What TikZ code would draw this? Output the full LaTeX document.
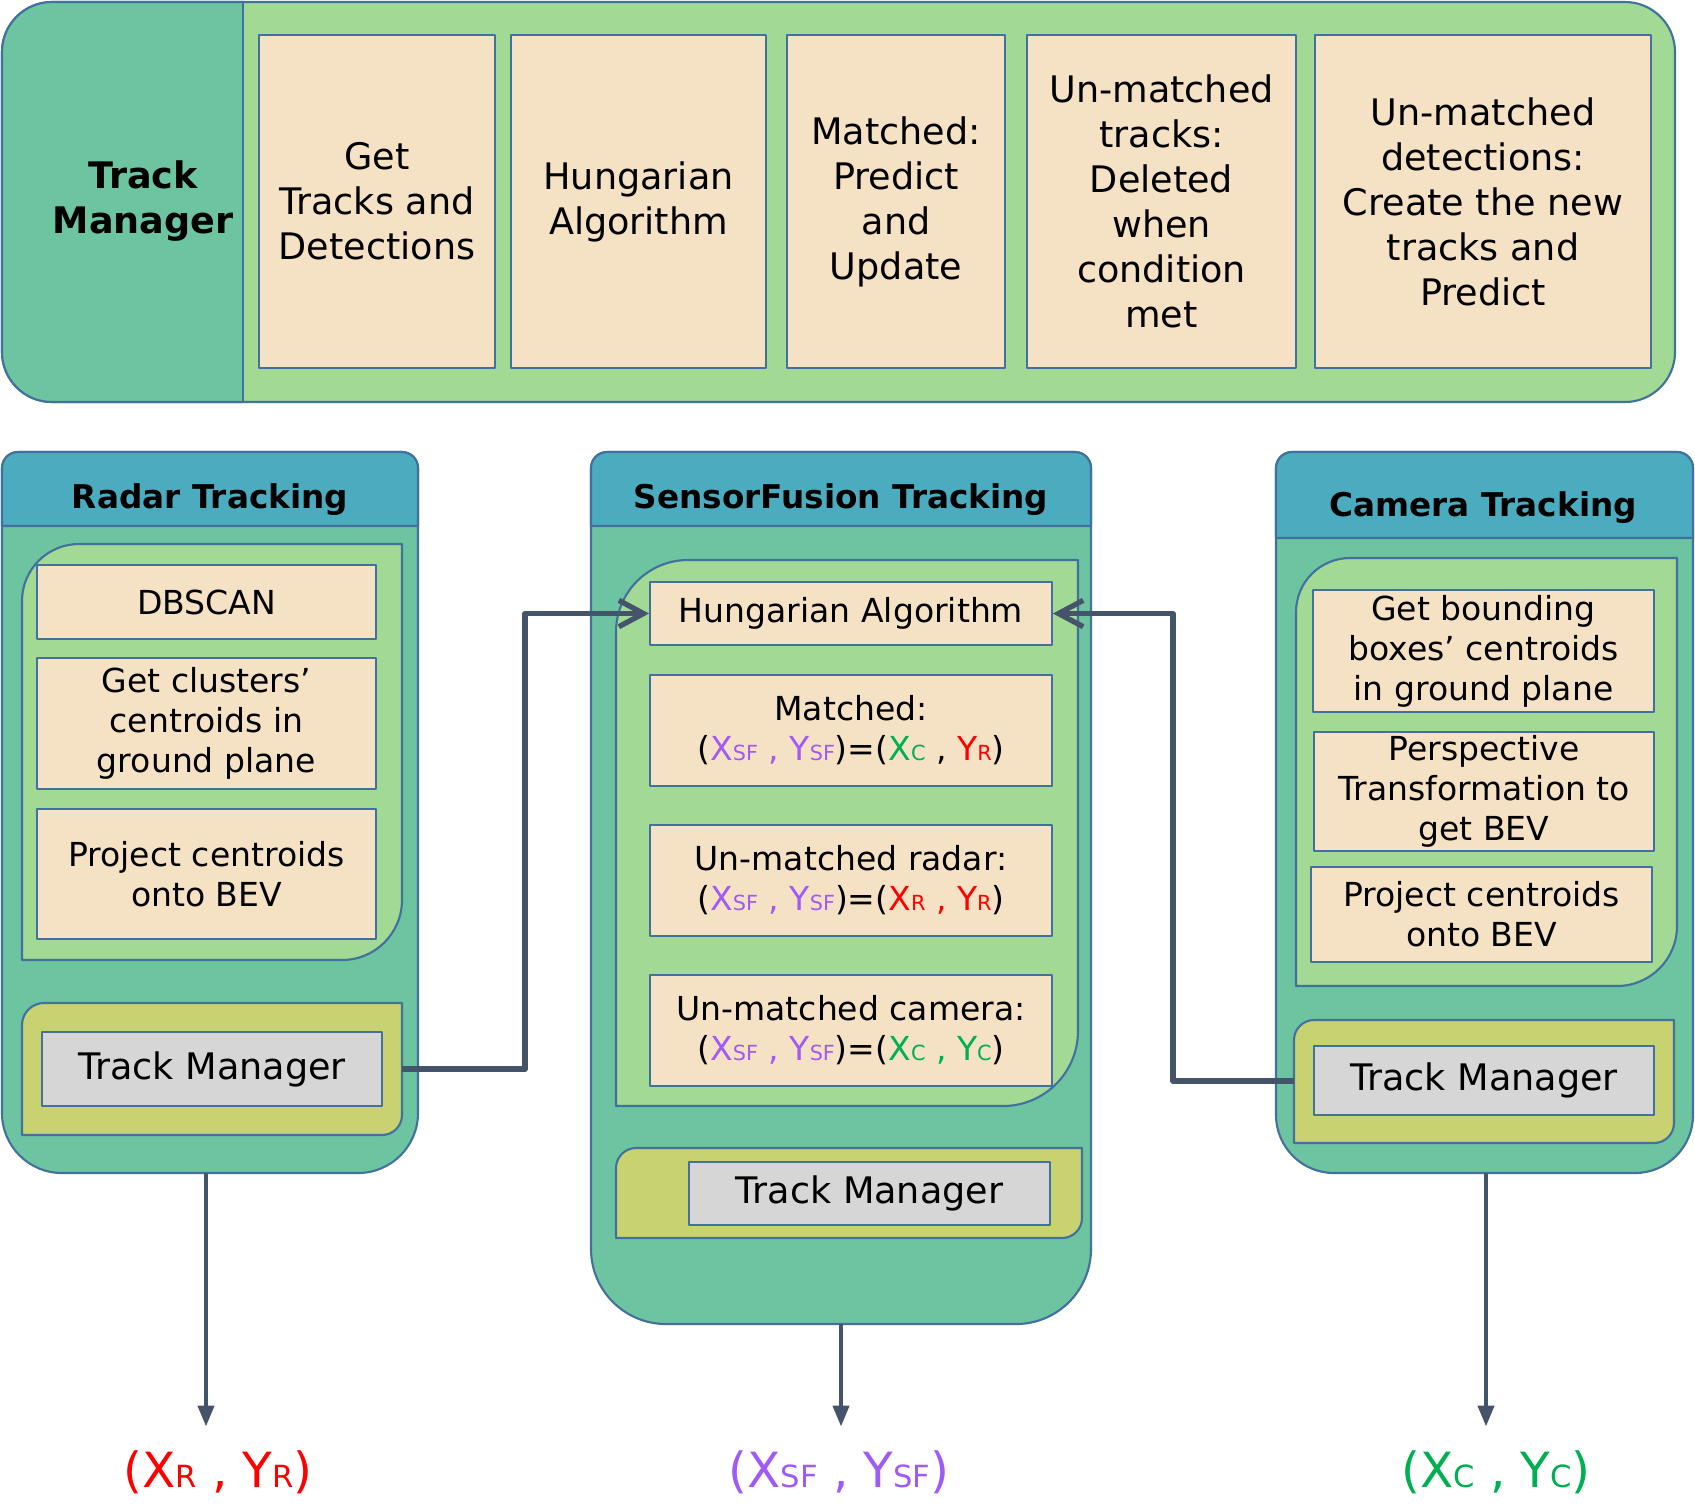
\documentclass[tikz,border=0pt]{standalone}
\usepackage{fontspec}
\setmainfont{DejaVu Sans}
\usepackage{graphicx}
\usepackage{xcolor}
\usetikzlibrary{arrows.meta}

\definecolor{panelteal}{RGB}{109,196,161}
\definecolor{headblue}{RGB}{75,172,192}
\definecolor{innergreen}{RGB}{161,217,149}
\definecolor{stepbeige}{RGB}{245,225,196}
\definecolor{tmolive}{RGB}{200,210,112}
\definecolor{tmgray}{RGB}{214,214,214}
\definecolor{edgeblue}{RGB}{65,113,156}
\definecolor{linkslate}{RGB}{68,84,106}
\definecolor{radarred}{RGB}{255,0,0}
\definecolor{camgreen}{RGB}{0,176,80}
\definecolor{fusionpurple}{RGB}{160,90,245}

\newcommand{\bannerfont}{\fontsize{10.4}{12.8}\selectfont}
\newcommand{\stepfont}{\fontsize{9.4}{11.4}\selectfont}
\newcommand{\headfont}{\fontsize{9.3}{11}\selectfont\bfseries}
\newcommand{\tmfont}{\fontsize{10.4}{12}\selectfont}
\newcommand{\outfont}{\fontsize{13.8}{16}\selectfont}

% small letters sitting on the baseline
\newcommand{\lowidx}[1]{\scalebox{0.63}{#1}}
\newcommand{\XYsf}{\textcolor{fusionpurple}{X\lowidx{SF} , Y\lowidx{SF}}}

% tracking column: x1 y1 x2 y2 (y down), header bottom, bottom radius
\newcommand{\trackpanel}[6]{%
  \filldraw[fill=panelteal, draw=edgeblue, line width=0.6pt]
    (#1,{(#2+#4)/2}) [rounded corners=0.16cm] -- (#1,#2) -- (#3,#2) -- (#3,{(#2+#4)/2})
    [rounded corners=#6cm] -- (#3,#4) -- (#1,#4) -- cycle;
  \filldraw[fill=headblue, draw=edgeblue, line width=0.6pt]
    ({(#1+#3)/2},#5) [sharp corners] -- (#3,#5) -- (#3,{(#2+#5)/2})
    [rounded corners=0.16cm] -- (#3,#2) -- (#1,#2) -- (#1,{(#2+#5)/2})
    [sharp corners] -- (#1,#5) -- cycle;}

% inner panel: fill, x1 y1 x2 y2, top-left radius, bottom-right radius
\newcommand{\innerpanel}[7]{%
  \filldraw[fill=#1, draw=edgeblue, line width=0.6pt]
    (#4,{(#3+#5)/2}) [rounded corners=#7cm] -- (#4,#5) -- ({(#2+#4)/2},#5)
    [sharp corners] -- (#2,#5) -- (#2,{(#3+#5)/2})
    [rounded corners=#6cm] -- (#2,#3) -- ({(#2+#4)/2},#3)
    [sharp corners] -- (#4,#3) -- cycle;}

\begin{document}
\begin{tikzpicture}[x=1cm, y=-1cm, line join=round,
    stepbox/.style={draw=edgeblue, fill=stepbeige, line width=0.55pt, inner sep=0pt, align=center, font=\stepfont},
    bigbox/.style={stepbox, font=\bannerfont},
    tmbox/.style={stepbox, fill=tmgray, font=\tmfont},
    headtext/.style={anchor=base, font=\headfont},
    outtext/.style={anchor=base, inner sep=6.5pt, font=\outfont},
    link/.style={draw=linkslate, line width=1.5pt},
    feed/.style={link, -{Straight Barb[length=7pt, width=7.5pt]}},
    result/.style={link, line width=1.3pt, -{Triangle[length=6pt, width=4.5pt]}}]
  \useasboundingbox (0,0) rectangle (16.95,15.06);

  % track manager banner
  \filldraw[fill=innergreen, draw=edgeblue, line width=0.6pt, rounded corners=0.5cm] (0.02,0.02) rectangle (16.75,4.02);
  \begin{scope}
    \clip (0,0) rectangle (2.43,4.1);
    \filldraw[fill=panelteal, draw=edgeblue, line width=0.6pt, rounded corners=0.5cm] (0.02,0.02) rectangle (16.75,4.02);
  \end{scope}
  \draw[edgeblue, line width=0.6pt] (2.43,0.02) -- (2.43,4.02);
  \node[font=\bannerfont\bfseries, align=center] (tmtitle) at (1.43,2.01) {Track\\Manager};
  \node[bigbox, minimum width=2.36cm, minimum height=3.33cm] (gettd) at (3.77,2.015) {Get\\Tracks and\\Detections};
  \node[bigbox, minimum width=2.55cm, minimum height=3.33cm] (hungtm) at (6.385,2.015) {Hungarian\\Algorithm};
  \node[bigbox, minimum width=2.18cm, minimum height=3.33cm] (matchtm) at (8.96,2.015) {Matched:\\Predict\\and\\Update};
  \node[bigbox, minimum width=2.69cm, minimum height=3.33cm] (umtracks) at (11.615,2.015) {Un-matched\\tracks:\\Deleted\\when\\condition\\met};
  \node[bigbox, minimum width=3.36cm, minimum height=3.33cm] (umdets) at (14.83,2.015) {Un-matched\\detections:\\Create the new\\tracks and\\Predict};

  % radar column
  \trackpanel{0.02}{4.52}{4.18}{11.73}{5.26}{0.6}
  \node[headtext] (radarhead) at (2.10,5.08) {Radar Tracking};
  \innerpanel{innergreen}{0.22}{5.44}{4.02}{9.60}{0.57}{0.6}
  \node[stepbox, minimum width=3.39cm, minimum height=0.74cm] (dbscan) at (2.065,6.02) {DBSCAN};
  \node[stepbox, minimum width=3.39cm, minimum height=1.31cm] (clusters) at (2.065,7.235) {Get clusters'\\centroids in\\ground plane};
  \node[stepbox, minimum width=3.39cm, minimum height=1.30cm] (rproject) at (2.065,8.74) {Project centroids\\onto BEV};
  \innerpanel{tmolive}{0.22}{10.03}{4.02}{11.35}{0.22}{0.2}
  \node[tmbox, minimum width=3.40cm, minimum height=0.74cm] (radartm) at (2.12,10.69) {Track Manager};

  % sensor fusion column
  \trackpanel{5.91}{4.52}{10.91}{13.24}{5.26}{0.75}
  \node[headtext] (fusionhead) at (8.41,5.08) {SensorFusion Tracking};
  \innerpanel{innergreen}{6.16}{5.60}{10.78}{11.06}{0.72}{0.75}
  \node[stepbox, minimum width=4.02cm, minimum height=0.63cm] (hung) at (8.51,6.135) {Hungarian Algorithm};
  \node[stepbox, minimum width=4.02cm, minimum height=1.11cm] (matched) at (8.51,7.305)
    {Matched:\\(\XYsf)=(\textcolor{camgreen}{X\lowidx{C}} , \textcolor{radarred}{Y\lowidx{R}})};
  \node[stepbox, minimum width=4.02cm, minimum height=1.11cm] (umradar) at (8.51,8.805)
    {Un-matched radar:\\(\XYsf)=(\textcolor{radarred}{X\lowidx{R} , Y\lowidx{R}})};
  \node[stepbox, minimum width=4.02cm, minimum height=1.11cm] (umcam) at (8.51,10.305)
    {Un-matched camera:\\(\XYsf)=(\textcolor{camgreen}{X\lowidx{C} , Y\lowidx{C}})};
  \innerpanel{tmolive}{6.16}{11.48}{10.82}{12.38}{0.2}{0.2}
  \node[tmbox, minimum width=3.61cm, minimum height=0.63cm] (fusiontm) at (8.695,11.935) {Track Manager};

  % camera column
  \trackpanel{12.76}{4.52}{16.93}{11.73}{5.38}{0.58}
  \node[headtext] (camhead) at (14.83,5.16) {Camera Tracking};
  \innerpanel{innergreen}{12.96}{5.58}{16.77}{9.86}{0.54}{0.6}
  \node[stepbox, minimum width=3.41cm, minimum height=1.22cm] (bboxes) at (14.835,6.51) {Get bounding\\boxes' centroids\\in ground plane};
  \node[stepbox, minimum width=3.40cm, minimum height=1.19cm] (persp) at (14.84,7.915) {Perspective\\Transformation to\\get BEV};
  \node[stepbox, minimum width=3.41cm, minimum height=0.95cm] (cproject) at (14.815,9.145) {Project centroids\\onto BEV};
  \innerpanel{tmolive}{12.94}{10.20}{16.74}{11.43}{0.2}{0.2}
  \node[tmbox, minimum width=3.40cm, minimum height=0.69cm] (camtm) at (14.84,10.805) {Track Manager};

  % tracks fed into the fusion
  \coordinate (radarout) at (4.02,10.69);
  \coordinate (camout) at (12.94,10.81);
  \draw[feed] (radarout) -- ++(1.23,0) |- (hung.west);
  \draw[feed] (camout) -- ++(-1.21,0) |- (hung.east);

  % outputs
  \coordinate (radarbot) at (2.06,11.73);
  \coordinate (fusionbot) at (8.41,13.24);
  \coordinate (cambot) at (14.86,11.73);
  \node[outtext, text=radarred] (radarxy) at (2.18,14.87) {(X\lowidx{R} , Y\lowidx{R})};
  \node[outtext, text=fusionpurple] (fusionxy) at (8.39,14.87) {(X\lowidx{SF} , Y\lowidx{SF})};
  \node[outtext, text=camgreen] (camxy) at (14.96,14.87) {(X\lowidx{C} , Y\lowidx{C})};
  \draw[result] (radarbot) -- (radarbot |- radarxy.north);
  \draw[result] (fusionbot) -- (fusionbot |- fusionxy.north);
  \draw[result] (cambot) -- (cambot |- camxy.north);
\end{tikzpicture}
\end{document}
